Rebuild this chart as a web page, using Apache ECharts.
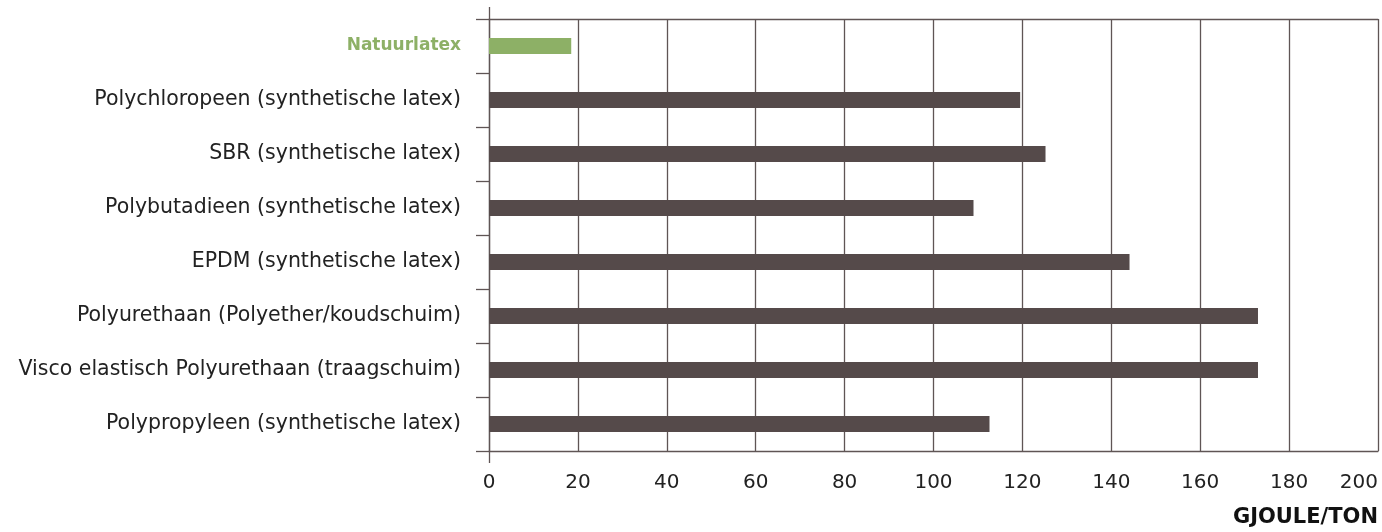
<!DOCTYPE html>
<html>
<head>
<meta charset="utf-8">
<script src="https://cdn.jsdelivr.net/npm/echarts@6/dist/echarts.min.js"></script>
<style>html,body{margin:0;padding:0;background:#fff}#c{width:1382px;height:532px}</style>
</head>
<body>
<div id="c"></div>
<script>
var categories = [
  'Natuurlatex',
  'Polychloropeen (synthetische latex)',
  'SBR (synthetische latex)',
  'Polybutadieen (synthetische latex)',
  'EPDM (synthetische latex)',
  'Polyurethaan (Polyether/koudschuim)',
  'Visco elastisch Polyurethaan (traagschuim)',
  'Polypropyleen (synthetische latex)'
];
var values = [18.5, 119.5, 125.2, 109, 144.1, 173, 173, 112.6];
var highlighted = 'Natuurlatex';
var xTicks = { min: 0, max: 200, interval: 20 };
var unitLabel = 'GJOULE/TON';

var lineColor = '#5f5555';
var chart = echarts.init(document.getElementById('c'), null, { renderer: 'canvas' });
chart.setOption({
  animation: false,
  title: {
    text: unitLabel, right: 4, top: 507, padding: 0,
    textStyle: { fontFamily: 'DejaVu Sans', fontWeight: 'bold', fontSize: 21, color: '#111' }
  },
  grid: { left: 489, right: 4, top: 19, bottom: 81, containLabel: false },
  xAxis: [{
    type: 'value', position: 'bottom',
    min: xTicks.min, max: xTicks.max, interval: xTicks.interval,
    axisLine: { show: true, lineStyle: { color: lineColor, width: 1.3 } },
    axisTick: { show: false },
    splitLine: { show: true, lineStyle: { color: lineColor, width: 1.3 } },
    axisLabel: { show: true, margin: 22, fontFamily: 'DejaVu Sans', fontSize: 20, color: '#222', alignMaxLabel: 'right' }
  }, {
    type: 'value', position: 'top',
    min: xTicks.min, max: xTicks.max, interval: xTicks.interval,
    axisLine: { show: true, lineStyle: { color: lineColor, width: 1.3 } },
    axisTick: { show: true, length: 12, customValues: [0], lineStyle: { color: lineColor, width: 1.3 } },
    splitLine: { show: false },
    axisLabel: { show: false }
  }, {
    type: 'value', position: 'bottom',
    min: xTicks.min, max: xTicks.max, interval: xTicks.interval,
    axisLine: { show: false },
    axisTick: { show: true, length: 12, customValues: [0], lineStyle: { color: lineColor, width: 1.3 } },
    splitLine: { show: false },
    axisLabel: { show: false }
  }],
  yAxis: {
    type: 'category', data: categories, inverse: true,
    axisLine: { show: true, lineStyle: { color: lineColor, width: 1.3 } },
    axisTick: { show: true, length: 13, lineStyle: { color: lineColor, width: 1.3 } },
    axisLabel: {
      margin: 28, fontFamily: 'DejaVu Sans', fontSize: 20.5, color: '#222',
      formatter: function (v) { return v === highlighted ? '{hl|' + v + '}' : v; },
      rich: { hl: { fontFamily: 'DejaVu Sans', fontWeight: 'bold', fontSize: 17, color: '#8DB066' } }
    }
  },
  series: [{
    type: 'bar', xAxisIndex: 0, barWidth: 16,
    data: values.map(function (v, i) {
      return { value: v, itemStyle: { color: categories[i] === highlighted ? '#8DB066' : '#554A4A' } };
    })
  }]
});
</script>
</body>
</html>
